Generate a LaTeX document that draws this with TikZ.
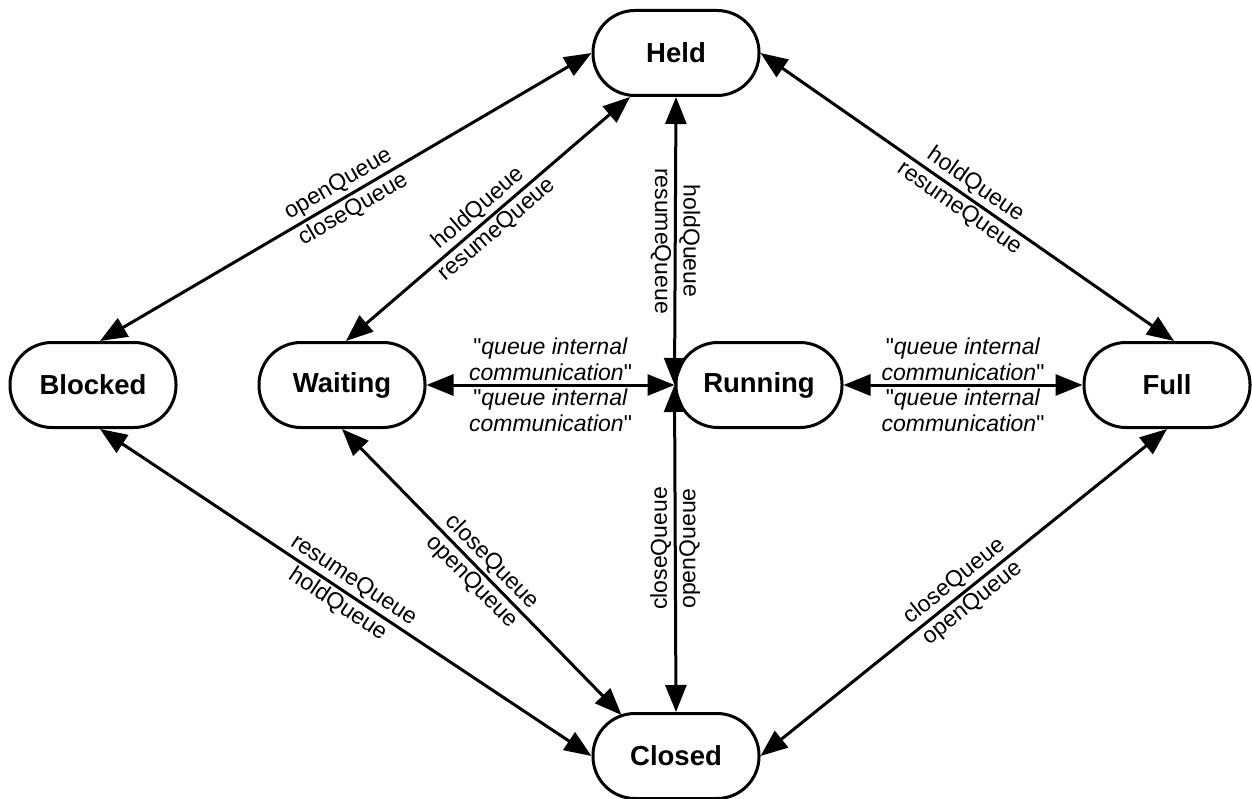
\documentclass[tikz,border=0pt]{standalone}
\usepackage{fontspec}
\setmainfont{Liberation Sans}
\usetikzlibrary{arrows.meta,calc}
\begin{document}
\begin{tikzpicture}[x=1pt,y=-1pt,
  state/.style={draw, line width=3pt, rectangle, rounded corners=42pt,
    minimum width=166pt, minimum height=85pt, inner sep=0pt,
    font=\bfseries\fontsize{27.5}{30}\selectfont},
  conn/.style={line width=3pt,
    {Triangle[length=27pt,width=21pt]}-{Triangle[length=27pt,width=21pt]}},
  lbl/.style={font=\fontsize{23}{26}\selectfont, inner sep=2.5pt},
  slbl/.style={lbl, sloped},
  ]
\useasboundingbox (0,0) rectangle (1252,799);
% states
\node[state] (held)    at (676,53)  {Held};
\node[state] (blocked) at (93,385)  {Blocked};
\node[state] (waiting) at (342,385) {Waiting};
\node[state] (running) at (759,385) {Running};
\node[state] (full)    at (1167,385) {Full};
\node[state] (closed)  at (676,756) {Closed};
% connection points
\coordinate (bN) at ($(blocked.north)+(7,0)$);
\coordinate (bS) at ($(blocked.south)+(7,0)$);
\coordinate (wN) at ($(waiting.north)+(4,0)$);
\coordinate (hSW) at ($(held.south)+(-46,0)$);
\coordinate (fN) at ($(full.north)+(7,0)$);
\coordinate (cNW) at ($(closed.north west)+(30,3)$);
% upper edges
\draw[conn] (bN) -- (held.west)
  node[slbl, midway, above] {openQueue}
  node[slbl, midway, below] {closeQueue};
\draw[conn] (wN) -- (hSW)
  node[slbl, midway, above] {holdQueue}
  node[slbl, midway, below] {resumeQueue};
\draw[conn] (held.east) -- (fN)
  node[slbl, midway, above] {holdQueue}
  node[slbl, midway, below] {resumeQueue};
\draw[conn] (held.south) -- (running.west)
  node[lbl, midway, rotate=-90, anchor=south] {holdQueue}
  node[lbl, midway, rotate=-90, anchor=north] {resumeQueue};
% horizontal edges
\draw[conn] (waiting.east) -- (running.west)
  node[lbl, midway, above, align=center] {\textquotedbl\textit{queue internal}\\\textit{communication}\textquotedbl}
  node[lbl, midway, below, align=center] {\textquotedbl\textit{queue internal}\\\textit{communication}\textquotedbl};
\draw[conn] (running.east) -- (full.west)
  node[lbl, midway, above, align=center] {\textquotedbl\textit{queue internal}\\\textit{communication}\textquotedbl}
  node[lbl, midway, below, align=center] {\textquotedbl\textit{queue internal}\\\textit{communication}\textquotedbl};
% lower edges
\draw[conn] (bS) -- (closed.west)
  node[slbl, midway, above] {resumeQueue}
  node[slbl, midway, below] {holdQueue};
\draw[conn] (waiting.south) -- (cNW)
  node[slbl, midway, above] {closeQueue}
  node[slbl, midway, below] {openQueue};
\draw[conn] (closed.north) -- (running.west)
  node[lbl, midway, rotate=90, anchor=south] {closeQueue}
  node[lbl, midway, rotate=90, anchor=north] {openQueue};
\draw[conn] (closed.east) -- (full.south)
  node[slbl, midway, above] {closeQueue}
  node[slbl, midway, below] {openQueue};
\end{tikzpicture}
\end{document}
